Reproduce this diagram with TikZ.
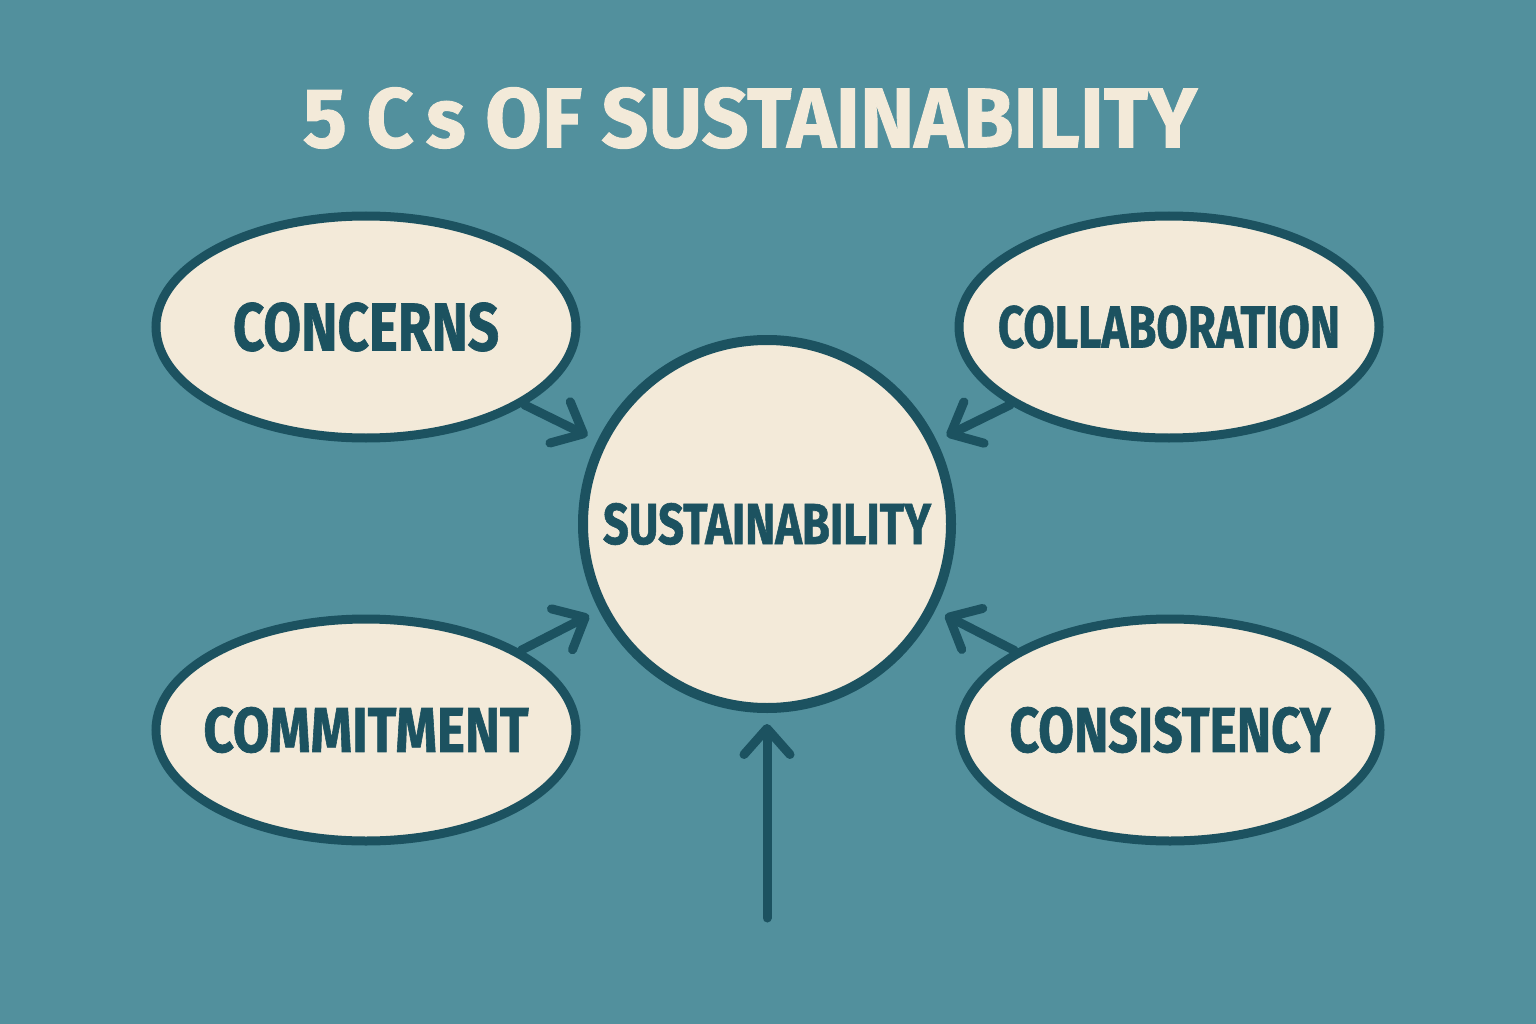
\documentclass[tikz,border=0pt]{standalone}
\usepackage{fontspec}
\setmainfont{Fira Sans}[BoldFeatures={FakeBold=1.1}]
\usetikzlibrary{arrows.meta,shapes.geometric}
\definecolor{bg}{RGB}{82,144,157}
\definecolor{cream}{RGB}{243,234,217}
\definecolor{dark}{RGB}{28,82,96}
\begin{document}
\begin{tikzpicture}[x=1pt,y=-1pt,
  bubble/.style={ellipse, draw=dark, fill=cream, line width=9pt, minimum width=420pt, minimum height=222pt, inner sep=0pt},
  hub/.style={circle, draw=dark, fill=cream, line width=10pt, minimum size=368pt, inner sep=0pt},
  lbl/.style={text=dark, font=\bfseries, inner sep=0pt},
  arr/.style={draw=dark, line width=9pt, line cap=round, shorten >=11pt, -{Straight Barb[length=26pt,width=46pt,round]}}]
\fill[bg] (0,0) rectangle (1536,1024);
\useasboundingbox (0,0) rectangle (1536,1024);
\node[text=cream, font=\bfseries, inner sep=0pt] (title) at (750,118) {\resizebox{894pt}{60pt}{5 C\kern0.15em s OF SUSTAINABILITY}};
\node[hub] (sust) at (767,524) {};
\node[lbl] (sustt) at (sust) {\resizebox{328pt}{41pt}{SUSTAINABILITY}};
\node[bubble] (concerns) at (366,327) {};
\node[lbl] (concernst) at (concerns) {\resizebox{266pt}{48pt}{CONCERNS}};
\node[bubble] (collab) at (1169,327) {};
\node[lbl] (collabt) at (collab) {\resizebox{342pt}{42pt}{COLLABORATION}};
\node[bubble] (commit) at (366,730) {};
\node[lbl] (committ) at (commit) {\resizebox{325pt}{45pt}{COMMITMENT}};
\node[bubble] (consist) at (1170,730) {};
\node[lbl] (consistt) at (consist) {\resizebox{321pt}{45pt}{CONSISTENCY}};
\coordinate (base) at (767,918);
\draw[arr] (concerns) -- (sust);
\draw[arr] (collab) -- (sust);
\draw[arr] (commit) -- (sust);
\draw[arr] (consist) -- (sust);
\draw[arr] (base) -- (sust);
\end{tikzpicture}
\end{document}
